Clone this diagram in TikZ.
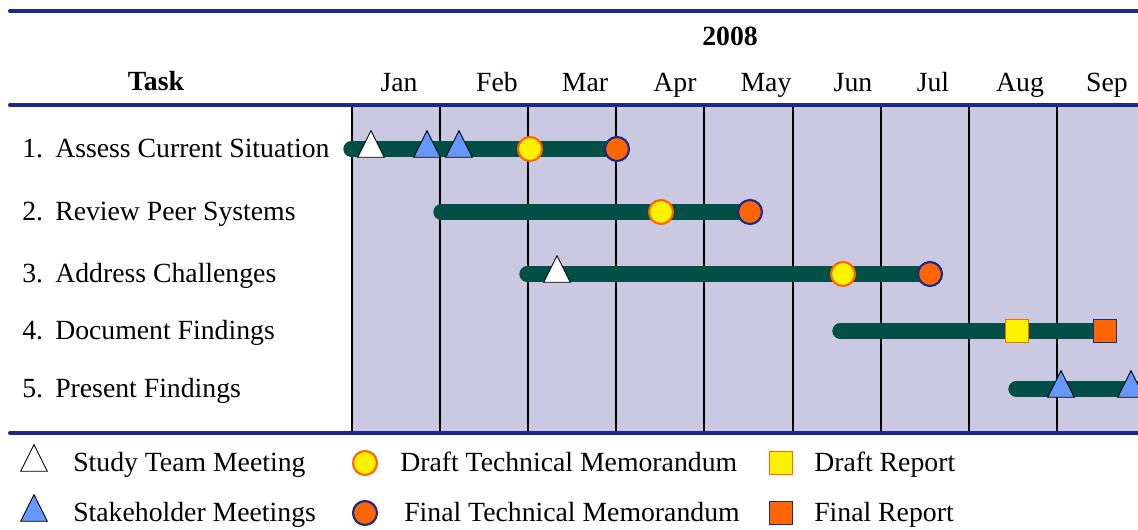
\documentclass[tikz,border=0pt]{standalone}
\usepackage{fontspec}
\setmainfont{Liberation Serif}
\usetikzlibrary{shapes.geometric}
\definecolor{navy}{RGB}{28,40,138}
\definecolor{lavender}{RGB}{203,200,225}
\definecolor{bargreen}{RGB}{0,80,72}
\definecolor{triblue}{RGB}{102,153,255}
\definecolor{memoorange}{RGB}{255,102,0}
\tikzstyle{rule}=[draw=navy,line width=3pt,line cap=round]
\tikzstyle{monthline}=[draw=black,line width=1.1pt]
\tikzstyle{bar}=[draw=bargreen,line width=11.5pt,line cap=round]
\tikzstyle{meeting}=[isosceles triangle,isosceles triangle stretches,shape border rotate=90,draw=black,fill=white,line width=0.7pt,inner sep=0pt,minimum height=20pt,minimum width=20pt]
\tikzstyle{stakeholder}=[meeting,fill=triblue]
\tikzstyle{draftmemo}=[circle,draw=memoorange,fill=yellow,line width=1.6pt,minimum size=18pt,inner sep=0pt]
\tikzstyle{finalmemo}=[circle,draw=navy,fill=memoorange,line width=1.6pt,minimum size=18pt,inner sep=0pt]
\tikzstyle{draftrep}=[rectangle,draw=memoorange,fill=yellow,line width=0.8pt,minimum size=17pt,inner sep=0pt]
\tikzstyle{finalrep}=[rectangle,draw=navy,fill=memoorange,line width=0.8pt,minimum size=17pt,inner sep=0pt]
\tikzstyle{txt}=[font=\fontsize{20.8}{24}\selectfont,inner sep=0pt]
\tikzstyle{head}=[txt,font=\fontsize{20.8}{24}\selectfont\bfseries,anchor=base]

\begin{document}
\begin{tikzpicture}[x=0.75pt,y=-0.75pt]
    \useasboundingbox (0,0) rectangle (1138,529);
    \clip (0,0) rectangle (1138,529);

    % chart area and month lines
    \fill[lavender] (352,107) rectangle (1138,431);
    \foreach \x in {352,440,528,616,704,793,881,969,1057}
        \draw[monthline] (\x,107) -- (\x,431);
    \foreach \y in {11,105,433}
        \draw[rule] (10,\y) -- (1150,\y);

    % headings
    \node[head] (year) at (730,45) {2008};
    \node[head] (task) at (156,90) {Task};
    \foreach \x/\m in {399/Jan,497/Feb,585/Mar,675/Apr,766/May,853/Jun,933/Jul,1020/Aug,1107/Sep}
        \node[txt,anchor=base] (\m) at (\x,91) {\m};

    % tasks and bars
    \foreach \n/\y/\a/\b/\t in {1/149/351/617/Assess Current Situation,2/212/441/750/Review Peer Systems,3/274/527/930/Address Challenges,4/331/840/1105/Document Findings,5/389/1016/1160/Present Findings}{
        \node[txt,anchor=base west] (num\n) at (22,\y+8) {\n.};
        \node[txt,anchor=base west] (task\n) at (55,\y+8) {\t};
        \coordinate (s\n) at (\a,\y);
        \coordinate (e\n) at (\b,\y);
        \draw[bar] (s\n) -- (e\n);
    }

    % milestones
    \node[meeting] (m1) at (371,149) {};
    \node[stakeholder] (k1) at (427,149) {};
    \node[stakeholder] (k2) at (459,149) {};
    \node[draftmemo] (d1) at (530,149) {};
    \node[finalmemo] (f1) at (617,149) {};
    \node[draftmemo] (d2) at (661,212) {};
    \node[finalmemo] (f2) at (750,212) {};
    \node[meeting] (m3) at (557,274) {};
    \node[draftmemo] (d3) at (843,274) {};
    \node[finalmemo] (f3) at (930,274) {};
    \node[draftrep] (r4) at (1017,331) {};
    \node[finalrep] (g4) at (1105,331) {};
    \node[stakeholder] (k5) at (1061,389) {};
    \node[stakeholder] (k6) at (1131,389) {};

    % legend
    \node[meeting] (lm) at (34,463) {};
    \node[txt,anchor=base west] (lmt) at (73,471) {Study Team Meeting};
    \node[stakeholder] (lk) at (34,513) {};
    \node[txt,anchor=base west] (lkt) at (73,521) {Stakeholder Meetings};
    \node[draftmemo] (ld) at (365,463) {};
    \node[txt,anchor=base west] (ldt) at (400,471) {Draft Technical Memorandum};
    \node[finalmemo] (lf) at (365,513) {};
    \node[txt,anchor=base west] (lft) at (404,521) {Final Technical Memorandum};
    \node[draftrep] (lr) at (781,463) {};
    \node[txt,anchor=base west] (lrt) at (814,471) {Draft Report};
    \node[finalrep] (lg) at (781,513) {};
    \node[txt,anchor=base west] (lgt) at (814,521) {Final Report};

\end{tikzpicture}
\end{document}
